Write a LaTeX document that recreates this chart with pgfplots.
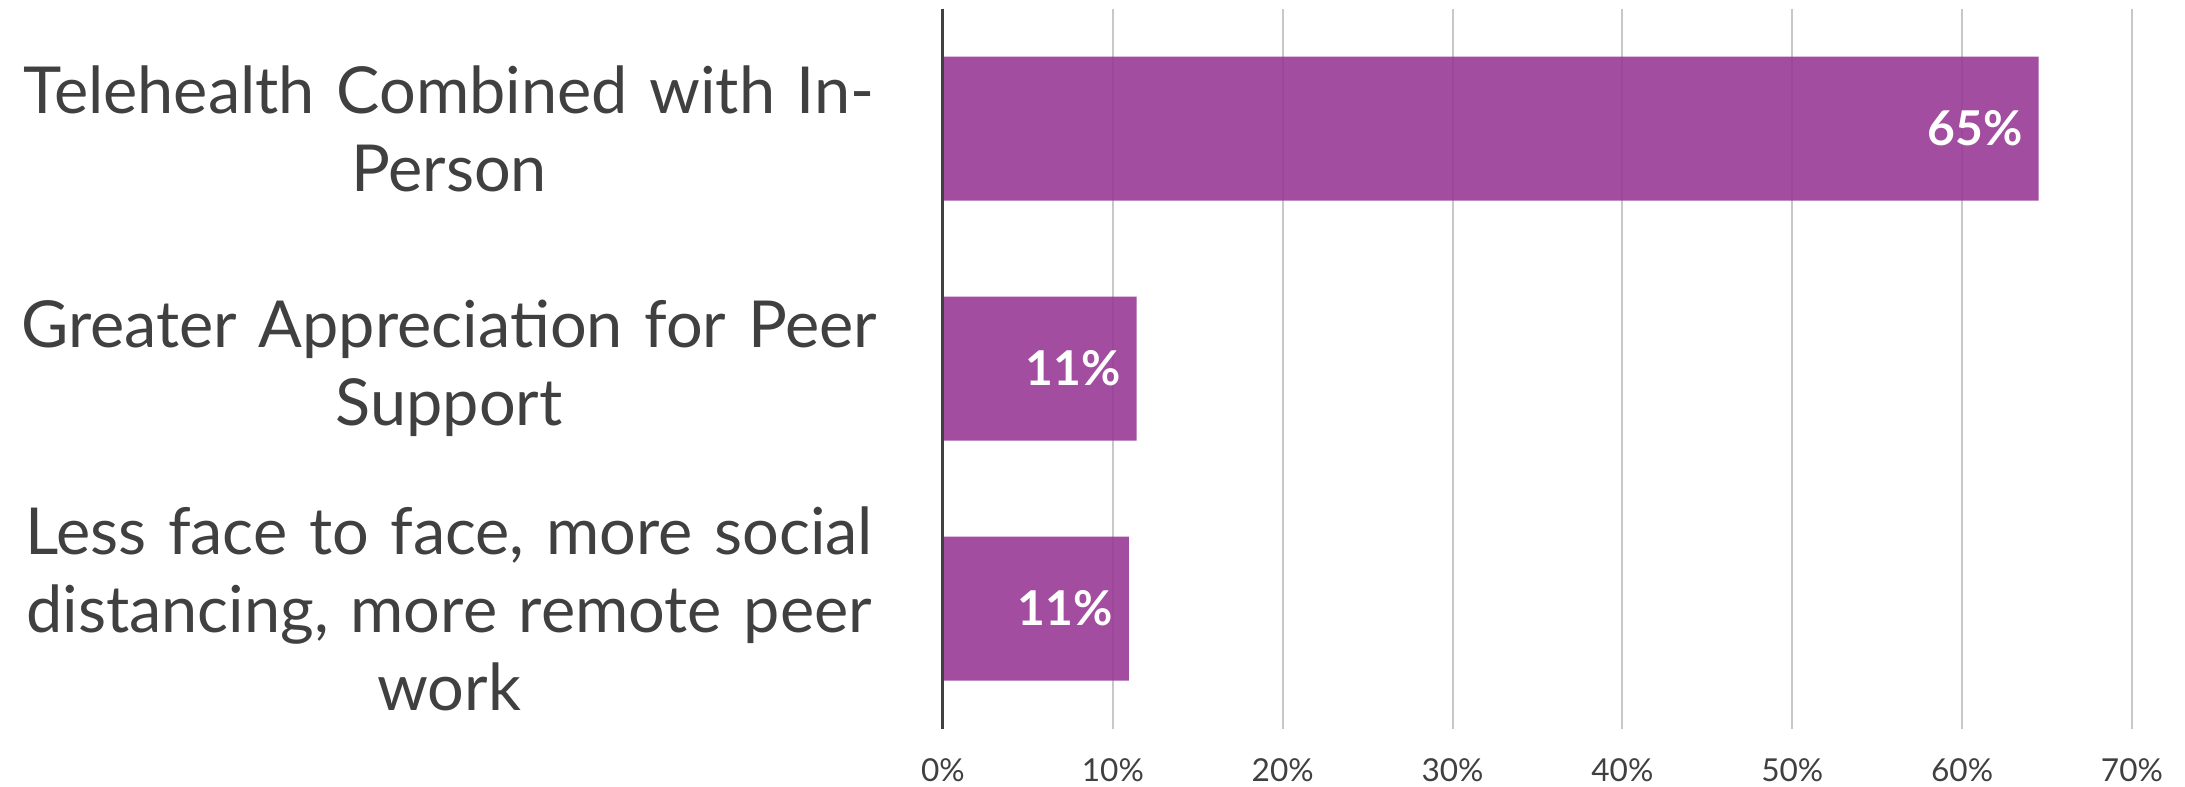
\documentclass[border=0pt]{standalone}
\usepackage{fontspec}
\setmainfont{Lato}
\usepackage{pgfplots}
\pgfplotsset{compat=1.18}
\usepackage{pgfplotstable}
\definecolor{barpurple}{RGB}{152,58,150}
\definecolor{txt}{RGB}{64,64,64}
\definecolor{gridc}{RGB}{200,200,200}

\pgfplotstableread{
idx val lab
0 64.5 65
1 11.4 11
2 10.95 11
}\datatable

\begin{document}
\begin{tikzpicture}
\begin{axis}[
 at={(0,0)}, anchor=south west,
 width=297.25pt, height=180pt, scale only axis,
 xbar, bar width=36pt,
 xmin=0, xmax=70, ymin=-0.5, ymax=2.5, y dir=reverse,
 xtick={0,10,...,70},
 xticklabel={\pgfmathprintnumber{\tick}\%},
 ytick={0,1,2},
 yticklabels={{Telehealth Combined with In-\\Person},{Greater Appreciation for Peer\\Support},{Less face to face, more social\\distancing, more remote peer\\work}},
 major tick length=0pt,
 axis line style={draw=none},
 xmajorgrids, grid style={gridc, line width=0.5pt},
 /pgf/number format/assume math mode=true,
 xticklabel style={font=\fontsize{7.9}{9}\selectfont, text=txt, yshift=-4pt},
 yticklabel style={font=\fontsize{16.2}{19.5}\selectfont, text=txt, text width=226pt, align=center, inner sep=0pt, xshift=-10.25pt},
 nodes near coords={\pgfmathprintnumber[fixed,precision=0]{\pgfplotspointmeta}\%},
 point meta=explicit,
 every node near coord/.append style={anchor=east, text=white, text opacity=1, fill opacity=1, font=\bfseries\fontsize{12}{14}\selectfont, xshift=-0.5pt},
 clip=false,
]
\addplot[fill=barpurple, draw=none, fill opacity=0.9] table[x=val, y=idx, meta=lab] {\datatable};
\draw[txt, line width=0.75pt] (axis cs:0,-0.5) -- (axis cs:0,2.5);
\end{axis}
\pgfresetboundingbox
\useasboundingbox (-235.75pt,-14.375pt) rectangle (310.5pt,182.125pt);
\end{tikzpicture}
\end{document}
